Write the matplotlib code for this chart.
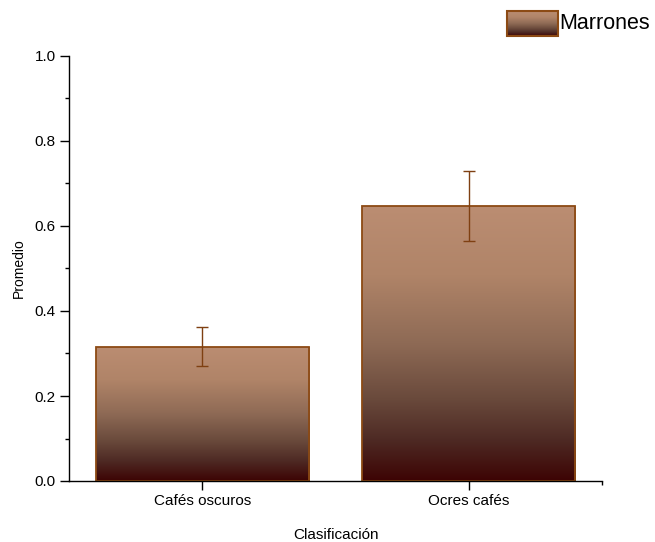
import numpy as np
import matplotlib
matplotlib.use("Agg")
import matplotlib.pyplot as plt
from matplotlib.colors import LinearSegmentedColormap
from matplotlib.patches import Rectangle
from matplotlib.ticker import MultipleLocator, FixedLocator, FormatStrFormatter

plt.rcParams['font.family'] = ['Liberation Sans', 'DejaVu Sans']

categories = ["Cafés oscuros", "Ocres cafés"]
means = [0.316, 0.647]
errors = [0.046, 0.082]
series_name = "Marrones"

W, H = 655, 542
fig = plt.figure(figsize=(W / 100, H / 100), dpi=100)
ax = fig.add_axes([69 / W, 61 / H, 533 / W, 425 / H])

x = np.arange(1, len(categories) + 1)
width = 0.8

grad = LinearSegmentedColormap.from_list(
    "brown_grad",
    [(0.0, "#3d0404"), (0.15, "#4e2a24"), (0.3, "#6a4a3c"),
     (0.5, "#8e6a55"), (0.75, "#b08468"), (1.0, "#bb8d72")])
gradient = np.linspace(0, 1, 256).reshape(-1, 1)

bars = ax.bar(x, means, width=width, color="none", edgecolor="#8c4a14",
              linewidth=1.3, zorder=3)
for b in bars:
    x0, y0 = b.get_x(), b.get_y()
    w, h = b.get_width(), b.get_height()
    im = ax.imshow(gradient, cmap=grad, aspect="auto", origin="lower",
                   extent=(x0, x0 + w, y0, y0 + h), zorder=2,
                   interpolation="bilinear")
    im.set_clip_path(Rectangle((x0, y0), w, h, transform=ax.transData))

ax.errorbar(x, means, yerr=errors, fmt="none", ecolor="#7f4012",
            elinewidth=1.0, capsize=4, capthick=1.0, zorder=4)

ax.set_xlim(0.5, 2.5)
ax.set_ylim(0, 1.0)
ax.set_xticks(x)
ax.set_xticklabels(categories)
ax.xaxis.set_minor_locator(FixedLocator([2.5]))
ax.yaxis.set_major_locator(MultipleLocator(0.2))
ax.yaxis.set_minor_locator(MultipleLocator(0.1))
ax.yaxis.set_major_formatter(FormatStrFormatter("%.1f"))

for side in ("top", "right"):
    ax.spines[side].set_visible(False)
for side in ("left", "bottom"):
    ax.spines[side].set_linewidth(1.0)
    ax.spines[side].set_zorder(5)

ax.tick_params(axis="both", which="major", direction="out", length=6.5,
               width=1.0, labelsize=11, pad=3)
ax.tick_params(axis="both", which="minor", direction="out", length=3,
               width=1.0)

ax.set_ylabel("Promedio", fontsize=10, labelpad=6)
ax.set_xlabel("Clasificación", fontsize=11, labelpad=14)

# legend: gradient swatch plus label
hax = fig.add_axes([507 / W, 1 - 36 / H, 51 / W, 25 / H])
hax.imshow(gradient, cmap=grad, aspect="auto", origin="lower",
           extent=(0, 1, 0, 1), interpolation="bilinear")
hax.add_patch(Rectangle((0, 0), 1, 1, fill=False, edgecolor="#8c4a14",
                        linewidth=1.5, transform=hax.transAxes, clip_on=False))
hax.set_axis_off()
fig.text(559 / W, 1 - 23.5 / H, series_name, fontsize=15.5,
         ha="left", va="center")

fig.savefig("out.png", dpi=100)
